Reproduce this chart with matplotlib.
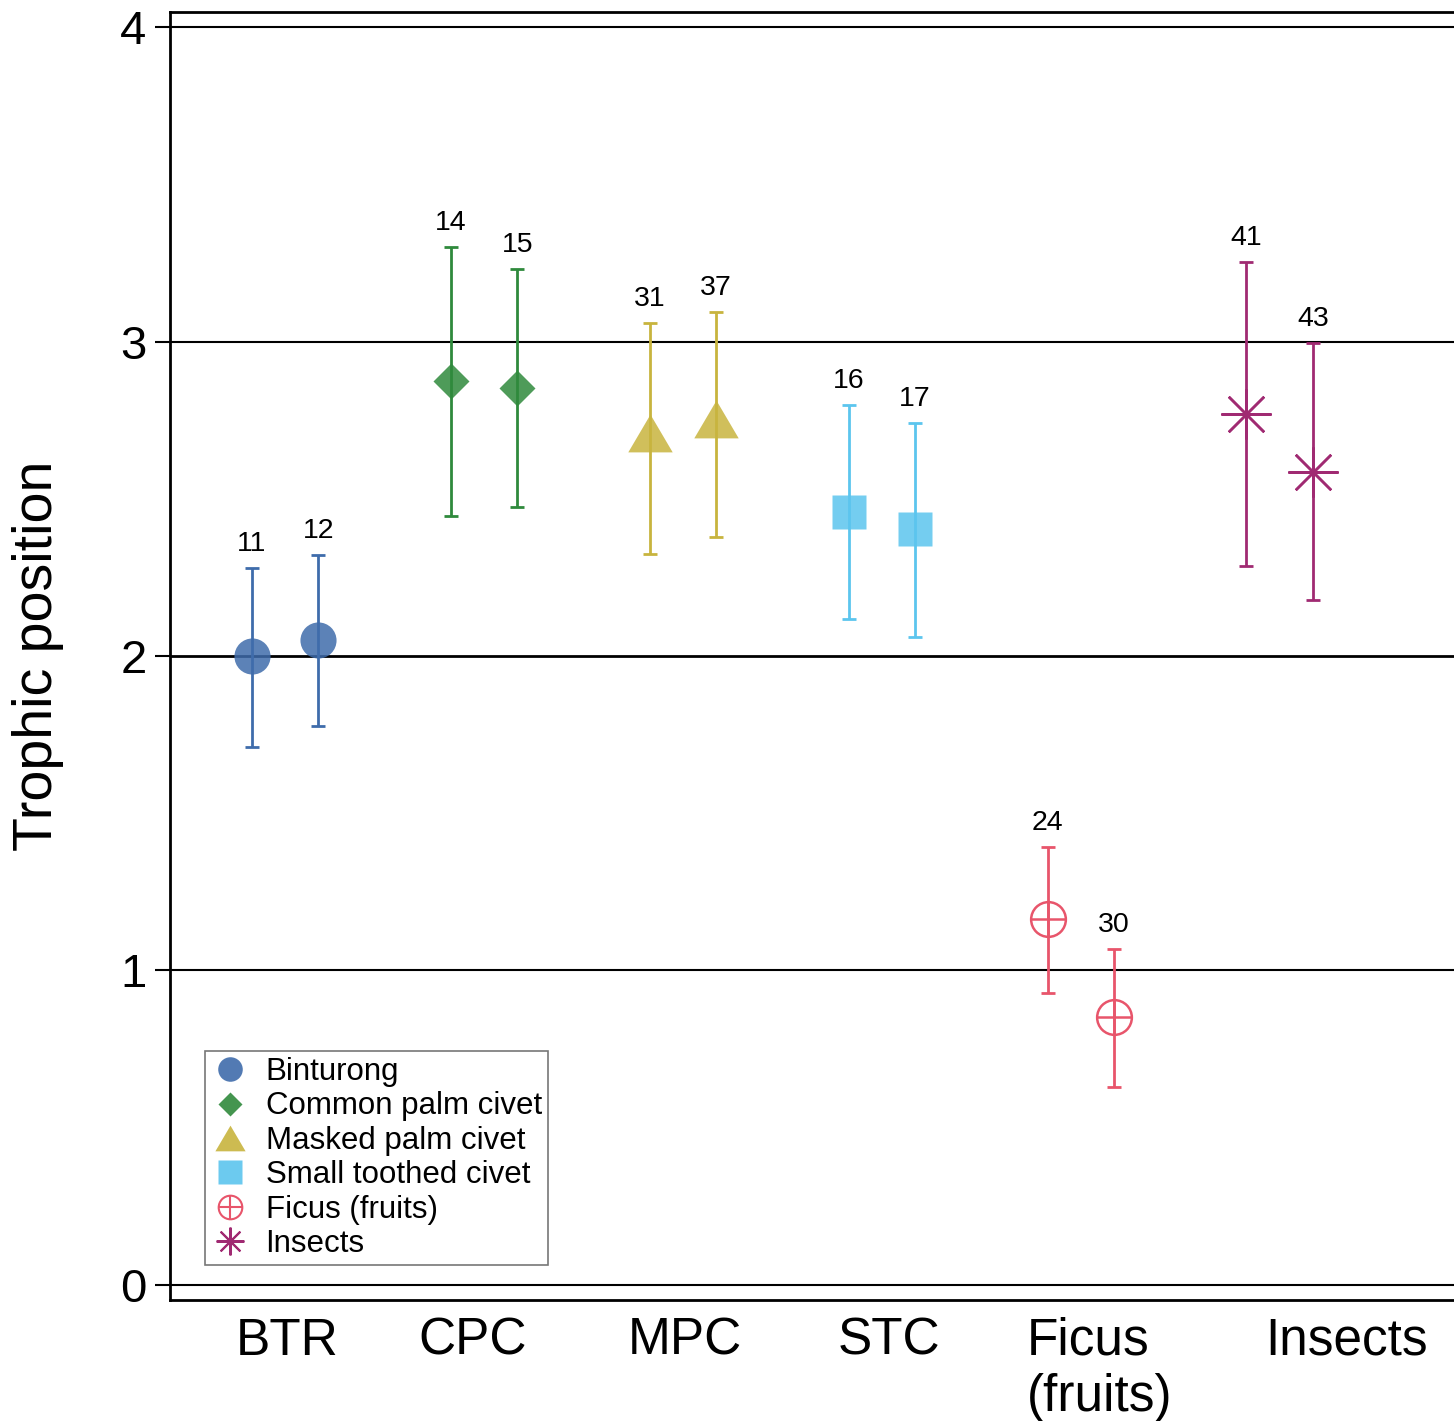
import numpy as np
import matplotlib
matplotlib.use("Agg")
import matplotlib.pyplot as plt
import matplotlib.colors as mcolors
from matplotlib.lines import Line2D

plt.rcParams["font.family"] = ["Liberation Sans", "DejaVu Sans"]

GROUPS = ["BTR", "CPC", "MPC", "STC", "Ficus\n(fruits)", "Insects"]
LEGEND_NAMES = ["Binturong", "Common palm civet", "Masked palm civet",
                "Small toothed civet", "Ficus (fruits)", "Insects"]

SAMPLE_IDS = [11, 12, 14, 15, 31, 37, 16, 17, 24, 30, 41, 43]
TP_MEAN  = [2.00, 2.05, 2.874, 2.852, 2.71, 2.754, 2.458, 2.404, 1.164, 0.852, 2.77, 2.585]
TP_LOWER = [1.71, 1.777, 2.445, 2.474, 2.325, 2.378, 2.118, 2.06, 0.928, 0.63, 2.286, 2.178]
TP_UPPER = [2.28, 2.32, 3.30, 3.23, 3.06, 3.094, 2.798, 2.741, 1.393, 1.068, 3.253, 2.995]

COLORS = ["#3f6cab", "#2f8a3c", "#c8b43e", "#5cc5ee", "#e8556b", "#a02a72"]

# two samples per group, gap of one slot between groups
x_pos = np.array([1, 2, 4, 5, 7, 8, 10, 11, 13, 14, 16, 17])
label_x = [1.53, 4.33, 7.53, 10.61, 13.79, 17.51]

tri = [(-1, -0.85), (1, -0.85), (0, 0.85)]
MARKERS = [("o", 26), ("D", 18), (tri, 32), ("s", 24.5), ("o", 25), ((8, 2, 0), 36)]

fig = plt.figure(figsize=(14.54, 14.21), dpi=100)
ax = fig.add_axes([170 / 1454, 1 - 1300 / 1421, 1 - 170 / 1454, (1300 - 12) / 1421])

for yv in [0, 1, 2, 3, 4]:
    ax.axhline(yv, color="black", lw=2.0 if yv == 2 else 1.5, zorder=1)

for g in range(len(GROUPS)):
    col = COLORS[g]
    mk, ms = MARKERS[g]
    for k in (2 * g, 2 * g + 1):
        y = TP_MEAN[k]
        yerr = [[y - TP_LOWER[k]], [TP_UPPER[k] - y]]
        ax.errorbar([x_pos[k]], [y], yerr=yerr, fmt="none", ecolor=col,
                    elinewidth=2.0, capsize=4.8, capthick=2.0, zorder=3)
        if g == 4:
            ax.plot(x_pos[k], y, marker="o", ms=ms, mfc="none", mec=col, mew=1.8, zorder=4)
            ax.plot(x_pos[k], y, marker="+", ms=ms, mec=col, mew=1.8, zorder=4)
        elif g == 5:
            ax.plot(x_pos[k], y, marker=mk, ms=ms, mec=col, mew=1.8, zorder=4)
        else:
            ax.plot(x_pos[k], y, marker=mk, ms=ms, mfc=mcolors.to_rgba(col, 0.85),
                    mec="none", ls="none", zorder=4)
        ax.annotate(str(SAMPLE_IDS[k]), (x_pos[k], TP_UPPER[k]), xytext=(0, 8),
                    textcoords="offset points", ha="center", va="bottom", fontsize=20.5)

ax.set_xlim(-0.237, 19.13)
ax.set_ylim(-0.048, 4.048)
ax.set_yticks([0, 1, 2, 3, 4])
ax.set_yticklabels(["0", "1", "2", "3", "4"], fontsize=34)
ax.tick_params(axis="y", length=11, width=1.5, pad=6)
ax.set_xticks(label_x)
ax.set_xticklabels(GROUPS, fontsize=37, multialignment="left")
ax.tick_params(axis="x", length=0, pad=12)
ax.set_ylabel("Trophic position", fontsize=40, labelpad=40)

ax.spines["right"].set_visible(False)
for s in ["left", "bottom", "top"]:
    ax.spines[s].set_linewidth(2.0)

handles = []
for g in range(len(GROUPS)):
    col = COLORS[g]
    if g == 4:
        h = (Line2D([], [], marker="o", ms=17, mfc="none", mec=col, mew=1.5, ls="none"),
             Line2D([], [], marker="+", ms=17, mec=col, mew=1.5, ls="none"))
    elif g == 5:
        h = Line2D([], [], marker=(8, 2, 0), ms=20, mec=col, mew=1.5, ls="none")
    else:
        mk, ms = MARKERS[g]
        h = Line2D([], [], marker=mk, ms=ms * 0.68, mfc=mcolors.to_rgba(col, 0.9),
                   mec="none", ls="none")
    handles.append(h)

leg = ax.legend(handles, LEGEND_NAMES, loc="lower left", bbox_to_anchor=(0.027, 0.027),
                borderaxespad=0, fontsize=22.5, frameon=True, fancybox=False,
                handlelength=1.2, handletextpad=0.55, labelspacing=0.14,
                borderpad=0.2, edgecolor="#555555")
leg.get_frame().set_linewidth(1.2)

fig.savefig("out.png", dpi=100)
